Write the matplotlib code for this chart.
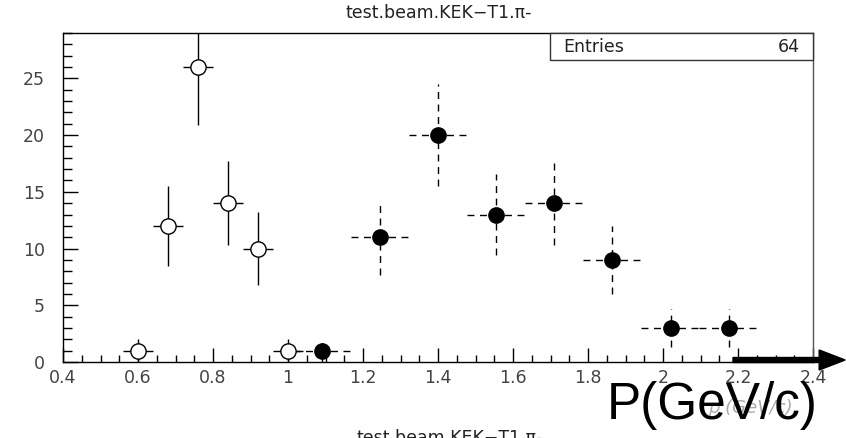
import matplotlib
matplotlib.use("Agg")
import matplotlib.pyplot as plt
from matplotlib.ticker import MultipleLocator

# open circles (solid error bars)
open_x = [0.60, 0.68, 0.76, 0.84, 0.92, 1.00]
open_y = [1, 12, 26, 14, 10, 1]
open_yerr = [1.0, 3.5, 5.1, 3.7, 3.2, 1.0]
open_xerr = 0.04

# filled circles (dashed error bars)
full_x = [1.09, 1.245, 1.40, 1.555, 1.71, 1.865, 2.02, 2.175]
full_y = [1, 11, 20, 13, 14, 9, 3, 3]
full_yerr = [1.0, 3.3, 4.5, 3.6, 3.7, 3.0, 1.7, 1.7]
full_xerr = 0.078

xticks = [0.4, 0.6, 0.8, 1.0, 1.2, 1.4, 1.6, 1.8, 2.0, 2.2, 2.4]
xticklabels = ["0.4", "0.6", "0.8", "1", "1.2", "1.4", "1.6", "1.8", "2", "2.2", "2.4"]
yticks = [0, 5, 10, 15, 20, 25]

title = "test.beam.KEK\u2212T1.\u03c0-"
entries = 64

W, H = 846, 438
fig = plt.figure(figsize=(W / 100, H / 100), dpi=100)
ax = fig.add_axes([63 / W, 1 - 362 / H, (813 - 63) / W, (362 - 33) / H])

eb1 = ax.errorbar(open_x, open_y, yerr=open_yerr, xerr=open_xerr, fmt="o",
                  mfc="white", mec="black", ms=11, mew=1.0, color="black",
                  elinewidth=1.0, capsize=0, zorder=3)
eb2 = ax.errorbar(full_x, full_y, yerr=full_yerr, xerr=full_xerr, fmt="o",
                  mfc="black", mec="black", ms=11, color="black",
                  elinewidth=1.0, capsize=0, zorder=2)
for lc in eb2[2]:
    lc.set_linestyle((0, (5, 4)))

ax.set_xlim(0.4, 2.4)
ax.set_ylim(0, 29)
ax.set_xticks(xticks)
ax.set_xticklabels(xticklabels)
ax.set_yticks(yticks)
ax.xaxis.set_minor_locator(MultipleLocator(0.05))
ax.yaxis.set_minor_locator(MultipleLocator(1))
ax.tick_params(axis="x", which="major", direction="in", length=10, width=1,
               labelsize=12.5, labelcolor="#444444", pad=5)
ax.tick_params(axis="x", which="minor", direction="in", length=5, width=1)
ax.tick_params(axis="y", which="major", direction="in", length=11, width=1,
               labelsize=12.5, labelcolor="#444444", pad=13)
ax.tick_params(axis="y", which="minor", direction="in", length=6.5, width=1)
for s in ax.spines.values():
    s.set_linewidth(1.0)
ax.spines["right"].set_color("#555555")

# stats box
ax.add_patch(plt.Rectangle(((550 - 63) / 750, 1 - 27 / 329), (813 - 550) / 750, 27 / 329,
                           transform=ax.transAxes, fill=True, fc="white",
                           ec="#333333", lw=1.0, clip_on=False, zorder=5))
ax.text((563 - 63) / 750, 1 - 13.5 / 329, "Entries", transform=ax.transAxes,
        fontsize=12.5, va="center", ha="left", color="#222222", zorder=6)
ax.text((800 - 63) / 750, 1 - 13.5 / 329, str(entries), transform=ax.transAxes,
        fontsize=12.5, va="center", ha="right", color="#222222", zorder=6)

fig.text(439 / W, 1 - 13 / H, title, ha="center", va="center", fontsize=12.5,
         color="#222222")
fig.text(450 / W, 1 - 429 / H, title, ha="center", va="top", fontsize=12.5,
         color="#222222")

# faint axis label and overlaid big label
fig.text(750 / W, 1 - 408 / H, "p (GeV/c)", ha="center", va="center",
         fontsize=13, color="#aaaaaa", style="italic")
fig.text(712 / W, 1 - 405 / H, "P(GeV/c)", ha="center", va="center",
         fontsize=37, color="black", family="Liberation Sans")

# thick arrow
fig.patches.append(matplotlib.patches.FancyArrow(
    733 / W, 1 - 360 / H, (846 - 733) / W - 0.001, 0, width=5 / H,
    head_width=20 / H, head_length=26 / W, length_includes_head=True,
    transform=fig.transFigure, color="black", figure=fig))

fig.savefig("out.png", dpi=100)
